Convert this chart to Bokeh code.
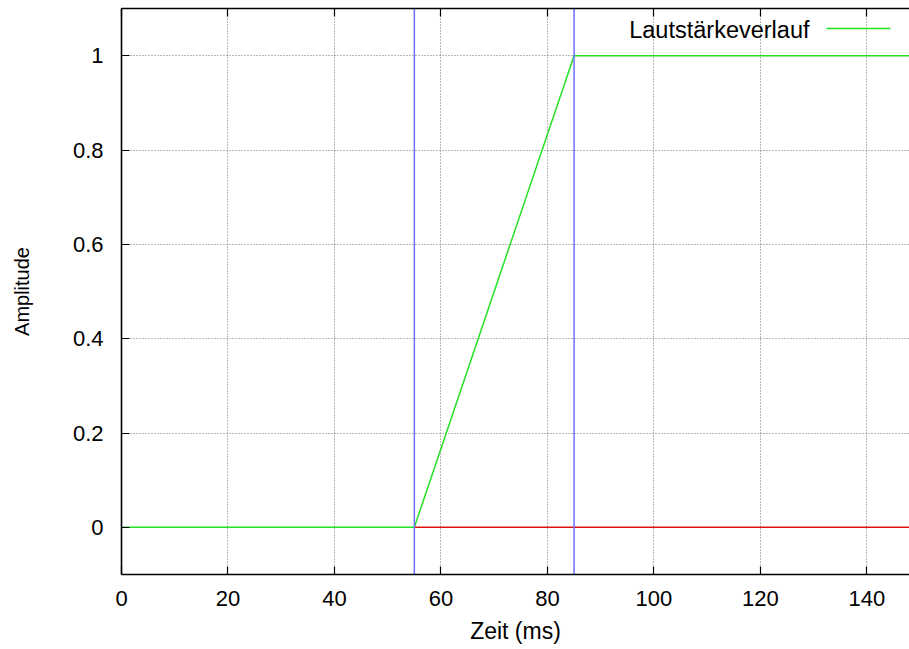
from bokeh.plotting import figure
from bokeh.models import Range1d, FixedTicker, LinearAxis, Label, Arrow
from bokeh.embed import file_html
from bokeh.resources import INLINE

# ---- data ----
env_t = [0, 55, 85, 148]          # Lautstärkeverlauf (ms)
env_amp = [0, 0, 1, 1]
base_t = [55, 148]                # red baseline after start
base_amp = [0, 0]
marker_t = [55, 85]               # blue vertical markers (ms)
x_ticks = [0, 20, 40, 60, 80, 100, 120, 140]
y_ticks = [0, 0.2, 0.4, 0.6, 0.8, 1]
y_tick_labels = ["0", "0.2", "0.4", "0.6", "0.8", "1"]
legend_label = "Lautstärkeverlauf"

FONT = "Liberation Sans"

p = figure(width=909, height=649, output_backend="svg", toolbar_location=None,
           x_range=Range1d(0, 148), y_range=Range1d(-0.1, 1.1),
           min_border_left=121, min_border_right=0, min_border_top=8,
           min_border_bottom=75, x_axis_label="Zeit (ms)", y_axis_label="Amplitude")
p.outline_line_color = None
p.background_fill_color = "white"
p.border_fill_color = "white"

for ax in (p.xaxis[0], p.yaxis[0]):
    ax.major_tick_in = 8
    ax.major_tick_out = 0
    ax.minor_tick_in = 0
    ax.minor_tick_out = 0
    ax.axis_line_width = 1.6
    ax.axis_line_color = "black"
    ax.major_tick_line_color = "black"
    ax.major_tick_line_width = 1.2
    ax.major_label_text_font = FONT
    ax.major_label_text_font_size = "22px"
    ax.major_label_text_color = "black"
    ax.axis_label_text_font = FONT
    ax.axis_label_text_font_style = "normal"
    ax.axis_label_text_color = "black"

p.xaxis[0].ticker = FixedTicker(ticks=x_ticks)
p.xaxis[0].major_label_standoff = 16
p.xaxis[0].axis_label_text_font_size = "23px"
p.xaxis[0].axis_label_standoff = 9
p.yaxis[0].ticker = FixedTicker(ticks=y_ticks)
p.yaxis[0].major_label_overrides = {t: l for t, l in zip(y_ticks, y_tick_labels)}
p.yaxis[0].major_label_standoff = 18
p.yaxis[0].axis_label_text_font_size = "20px"
p.yaxis[0].axis_label_standoff = 37

top = LinearAxis(ticker=FixedTicker(ticks=x_ticks))
top.major_tick_in = 8
top.major_tick_out = 0
top.minor_tick_in = 0
top.minor_tick_out = 0
top.major_label_text_font_size = "0px"
top.major_label_text_alpha = 0
top.major_label_standoff = 0
top.axis_line_width = 1.6
top.major_tick_line_width = 1.2
p.add_layout(top, "above")

p.xgrid.ticker = FixedTicker(ticks=x_ticks)
p.ygrid.ticker = FixedTicker(ticks=y_ticks)
for g in (p.xgrid[0], p.ygrid[0]):
    g.grid_line_color = "#707070"
    g.grid_line_dash = "1 2"
    g.grid_line_width = 1

p.line(env_t, env_amp, line_color="#22e022", line_width=1.5)
p.line(base_t, base_amp, line_color="#dd1111", line_width=1.5)
for t in marker_t:
    p.line([t, t], [-0.1, 1.1], line_color="#6e6eff", line_width=1.5)

# legend (gnuplot style: text then sample)
p.add_layout(Label(x=688, y=545, x_units="screen", y_units="screen", text=legend_label,
                   text_align="right", text_baseline="middle",
                   text_font=FONT, text_font_size="23.5px", text_color="black"))
p.add_layout(Arrow(end=None, x_start=705, y_start=546, x_end=769, y_end=546,
                   start_units="screen", end_units="screen",
                   line_color="#22e022", line_width=1.5))

open("out.html", "w").write(file_html(p, INLINE))
